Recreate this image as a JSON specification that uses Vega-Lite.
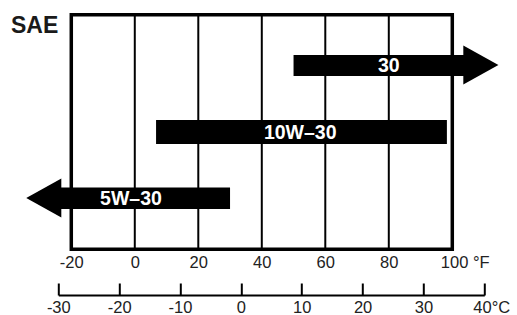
{
  "$schema": "https://vega.github.io/schema/vega-lite/v6.json",
  "width": 426,
  "height": 234.6,
  "autosize": "none",
  "padding": {"left": 58.3, "top": 14.7, "right": 32.7, "bottom": 65.7},
  "background": "white",
  "config": {"view": {"stroke": null}, "font": "Liberation Sans"},
  "title": {"text": "SAE", "anchor": "start", "frame": "group", "align": "right", "baseline": "top", "offset": -25, "fontSize": 23, "fontWeight": "bold", "color": "#1a1a1a", "font": "Liberation Sans"},
  "datasets": {
    "grid": [{"f": 0}, {"f": 20}, {"f": 40}, {"f": 60}, {"f": 80}],
    "frame": [{"f0": -20, "f1": 100, "y0": 0, "y1": 10}],
    "bars": [
      {"grade": "30", "x0": 50, "x1": 104, "y0": 7.39, "y1": 8.28, "lx": 80, "ly": 7.835},
      {"grade": "10W–30", "x0": 6.7, "x1": 98.3, "y0": 4.49, "y1": 5.51, "lx": 52.1, "ly": 5.0},
      {"grade": "5W–30", "x0": -24, "x1": 30, "y0": 1.72, "y1": 2.63, "lx": -1.2, "ly": 2.175}
    ],
    "heads": [
      {"grade": "30", "hx": 109.0, "hy": 7.86, "dir": "right"},
      {"grade": "5W–30", "hx": -28.66, "hy": 2.19, "dir": "left"}
    ],
    "celsius": [{"c": -30}, {"c": -20}, {"c": -10}, {"c": 0}, {"c": 10}, {"c": 20}, {"c": 30}, {"c": 40}]
  },
  "layer": [
    {
      "layer": [
        {
          "data": {"name": "grid"},
          "mark": {"type": "rule", "color": "black", "strokeWidth": 2},
          "encoding": {
            "x": {"field": "f", "type": "quantitative",
              "scale": {"domain": [-24.09, 110.08], "nice": false, "zero": false},
              "axis": {"values": [-20, 0, 20, 40, 60, 80, 100], "labelExpr": "datum.value == 100 ? '100 °F' : '' + datum.value", "labelAlign": {"condition": {"test": "datum.value == 100", "value": "left"}, "value": "center"}, "labelOffset": {"condition": {"test": "datum.value == 100", "value": -12}, "value": 0}, "ticks": false, "domain": false, "grid": false, "labelPadding": 5, "labelFontSize": 16.5, "labelColor": "#222", "labelFont": "Liberation Sans", "labelFlush": false, "labelOverlap": false, "title": null}
            }
          }
        },
        {
          "data": {"name": "frame"},
          "mark": {"type": "rect", "filled": false, "stroke": "black", "strokeWidth": 3.5},
          "encoding": {
            "x": {"field": "f0", "type": "quantitative"},
            "x2": {"field": "f1"},
            "y": {"field": "y0", "type": "quantitative", "scale": {"domain": [0, 10], "nice": false, "zero": false}, "axis": null},
            "y2": {"field": "y1"}
          }
        },
        {
          "data": {"name": "bars"},
          "mark": {"type": "rect", "color": "black"},
          "encoding": {
            "x": {"field": "x0", "type": "quantitative"},
            "x2": {"field": "x1"},
            "y": {"field": "y0", "type": "quantitative", "axis": null},
            "y2": {"field": "y1"}
          }
        },
        {
          "data": {"name": "heads"},
          "mark": {"type": "point", "filled": true, "color": "black", "opacity": 1, "size": 1521, "strokeWidth": 0},
          "encoding": {
            "x": {"field": "hx", "type": "quantitative"},
            "y": {"field": "hy", "type": "quantitative", "axis": null},
            "shape": {"field": "dir", "type": "nominal", "legend": null,
              "scale": {"domain": ["right", "left"], "range": ["M-0.9,-1L0.9,0L-0.9,1Z", "M0.9,-1L-0.9,0L0.9,1Z"]}}
          }
        },
        {
          "data": {"name": "bars"},
          "mark": {"type": "text", "color": "white", "fontWeight": "bold", "fontSize": 19.5, "font": "Liberation Sans", "align": "center", "baseline": "middle", "dy": 1},
          "encoding": {
            "x": {"field": "lx", "type": "quantitative"},
            "y": {"field": "ly", "type": "quantitative", "axis": null},
            "text": {"field": "grade", "type": "nominal"}
          }
        }
      ]
    },
    {
      "data": {"name": "celsius"},
      "mark": {"type": "point", "opacity": 0},
      "encoding": {
        "x": {"field": "c", "type": "quantitative",
          "scale": {"domain": [-30, 40], "nice": false, "zero": false},
          "axis": {"orient": "bottom", "offset": 45.7, "values": [-30, -20, -10, 0, 10, 20, 30, 40], "labelExpr": "datum.value == 40 ? '40°C' : '' + datum.value", "labelAlign": {"condition": {"test": "datum.value == 40", "value": "left"}, "value": "center"}, "labelOffset": {"condition": {"test": "datum.value == 40", "value": -11.5}, "value": 0}, "grid": false, "domain": true, "domainColor": "black", "domainWidth": 2, "ticks": true, "tickColor": "black", "tickWidth": 2, "tickSize": -12, "labelPadding": 16.5, "labelFontSize": 16.5, "labelColor": "#222", "labelFont": "Liberation Sans", "labelFlush": false, "labelOverlap": false, "title": null}
        }
      }
    }
  ],
  "resolve": {"scale": {"x": "independent"}, "axis": {"x": "independent"}}
}
